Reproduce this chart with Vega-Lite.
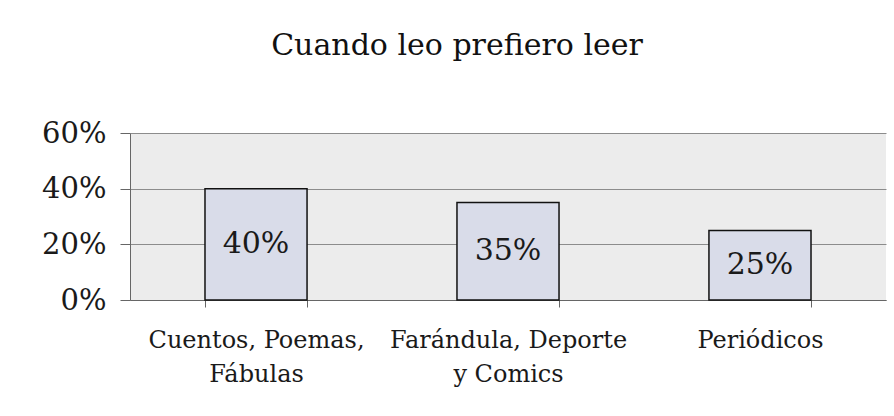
{
  "$schema": "https://vega.github.io/schema/vega-lite/v6.json",
  "width": 756,
  "height": 167,
  "autosize": {"type": "none"},
  "padding": {"left": 130, "top": 133, "right": 8, "bottom": 116},
  "background": "white",
  "title": {
    "text": "Cuando leo prefiero leer",
    "font": "DejaVu Serif",
    "fontSize": 30,
    "fontWeight": "normal",
    "color": "#111111",
    "anchor": "middle",
    "frame": "group",
    "baseline": "alphabetic",
    "dx": -51,
    "offset": 34
  },
  "data": {
    "values": [
      {"categoria": "Cuentos, Poemas,|Fábulas", "valor": 0.40},
      {"categoria": "Farándula, Deporte|y Comics", "valor": 0.35},
      {"categoria": "Periódicos", "valor": 0.25}
    ]
  },
  "encoding": {
    "x": {
      "field": "categoria",
      "type": "nominal",
      "sort": null,
      "scale": {"paddingInner": 0.595, "paddingOuter": 0.2976},
      "axis": {
        "title": null,
        "labelExpr": "split(datum.label, '|')",
        "labelAngle": 0,
        "labelFont": "DejaVu Serif",
        "labelFontSize": 24,
        "labelColor": "#1a1a1a",
        "labelLineHeight": 34,
        "labelBaseline": "top",
        "labelPadding": 21,
        "labelLimit": 0,
        "tickBand": "extent",
        "tickSize": 7,
        "tickColor": "#666666",
        "domainColor": "#666666",
        "grid": false
      }
    }
  },
  "layer": [
    {
      "mark": {"type": "bar", "fill": "#d9dce9", "stroke": "#111111", "strokeWidth": 1.5},
      "encoding": {
        "y": {
          "field": "valor",
          "type": "quantitative",
          "scale": {"domain": [0, 0.6], "nice": false},
          "axis": {
            "title": null,
            "format": ".0%",
            "values": [0, 0.2, 0.4, 0.6],
            "labelFont": "DejaVu Serif",
            "labelFontSize": 29,
            "labelColor": "#1a1a1a",
            "labelPadding": 14,
            "tickSize": 10,
            "tickColor": "#666666",
            "domainColor": "#666666",
            "grid": true,
            "gridColor": "#8c8c8c",
            "gridWidth": 1
          }
        }
      }
    },
    {
      "mark": {"type": "text", "font": "DejaVu Serif", "fontSize": 30, "color": "#1a1a1a", "baseline": "middle", "align": "center"},
      "encoding": {
        "y": {
          "field": "valor",
          "type": "quantitative",
          "scale": {"domain": [0, 1.2], "nice": false},
          "axis": null
        },
        "text": {"field": "valor", "type": "quantitative", "format": ".0%"}
      }
    }
  ],
  "resolve": {"scale": {"y": "independent"}},
  "config": {
    "view": {"fill": "#ececec", "stroke": null}
  }
}
